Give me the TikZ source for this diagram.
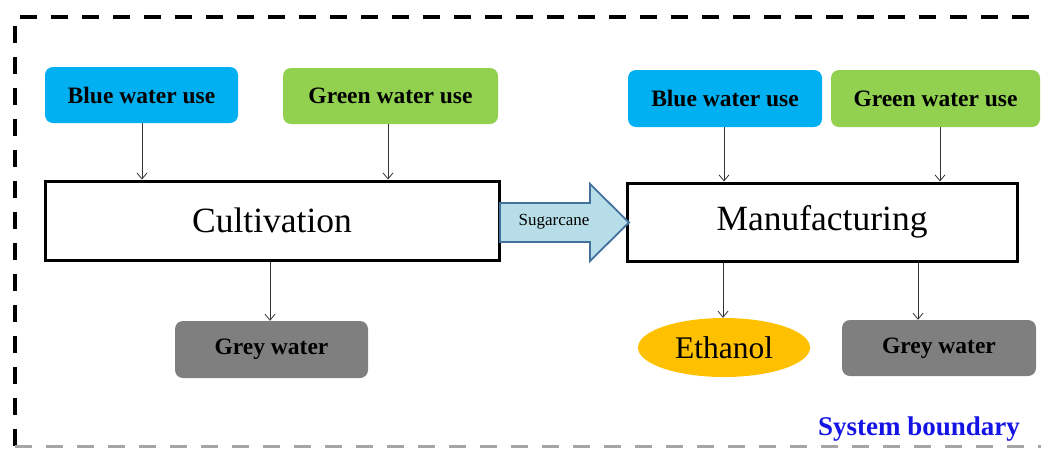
\documentclass[tikz,border=0pt]{standalone}
\usepackage{fontspec}
\setmainfont{Liberation Serif}
\usetikzlibrary{arrows.meta,shapes.geometric}
\definecolor{bluew}{HTML}{00B0F0}
\definecolor{greenw}{HTML}{92D050}
\definecolor{greyw}{HTML}{7F7F7F}
\definecolor{ethc}{HTML}{FFC000}
\definecolor{sugfill}{HTML}{B7DEE8}
\definecolor{sugdraw}{HTML}{41719C}
\definecolor{sysblue}{HTML}{1414E6}
\begin{document}
\begin{tikzpicture}[x=1pt,y=-1pt,
  wbox/.style={rounded corners=8pt, inner sep=0pt, font=\fontsize{23.5}{28}\selectfont\bfseries},
  procbox/.style={draw=black, line width=3pt, fill=white, inner sep=0pt, font=\fontsize{35.5}{42}\selectfont},
  flow/.style={draw=black!80, line width=0.8pt, -{Straight Barb[length=6pt,width=10pt]}}
]
\useasboundingbox (0,0) rectangle (1041,448);
\begin{scope}
\clip (0,0) rectangle (1041,448);
\draw[line width=4pt, dash pattern=on 17pt off 14pt] (1060,17) -- (15,17) -- (15,448);
\draw[line width=3pt, black!35, dash pattern=on 17pt off 14pt] (15,446) -- (1060,446);
\end{scope}

\node[wbox, fill=bluew, minimum width=193pt, minimum height=56pt] (b1) at (141.5,95) {Blue water use};
\node[wbox, fill=greenw, minimum width=215pt, minimum height=56pt] (g1) at (390.5,96) {Green water use};
\node[procbox, minimum width=454pt, minimum height=79pt] (cult) at (272,220.5) {Cultivation};
\node[wbox, fill=greyw, minimum width=193pt, minimum height=57pt] (gr1) at (271.5,349.5) {Grey water};

\node[procbox, minimum width=390pt, minimum height=78pt] (manu) at (822,222) {Manufacturing};
\node[wbox, fill=bluew, minimum width=194pt, minimum height=57pt] (b2) at (725,98.5) {Blue water use};
\node[wbox, fill=greenw, minimum width=209pt, minimum height=57pt] (g2) at (935.5,98.5) {Green water use};
\node[ellipse, fill=ethc, inner sep=0pt, minimum width=172pt, minimum height=59pt, font=\fontsize{31.5}{38}\selectfont] (eth) at (724,347.5) {Ethanol};
\node[wbox, fill=greyw, minimum width=194pt, minimum height=56pt] (gr2) at (939,348) {Grey water};

\draw[sugdraw, fill=sugfill, line width=1.8pt, line join=miter]
  (500,203) -- (590,203) -- (590,184) -- (629,222.5) -- (590,261) -- (590,242) -- (500,242) -- cycle;
\node[font=\fontsize{17}{20}\selectfont] (sug) at (554,222) {Sugarcane};

\draw[flow] (b1.south -| 142,0) -- (cult.north -| 142,0);
\draw[flow] (g1.south -| 388,0) -- (cult.north -| 388,0);
\draw[flow] (cult.south -| 270,0) -- (gr1.north -| 270,0);
\draw[flow] (b2.south -| 724,0) -- (manu.north -| 724,0);
\draw[flow] (g2.south -| 940,0) -- (manu.north -| 940,0);
\draw[flow] (manu.south -| 723,0) -- (eth.north -| 723,0);
\draw[flow] (manu.south -| 918,0) -- (gr2.north -| 918,0);

\node[text=sysblue, font=\fontsize{27}{32}\selectfont\bfseries] (sys) at (919,429) {System boundary};
\end{tikzpicture}
\end{document}
